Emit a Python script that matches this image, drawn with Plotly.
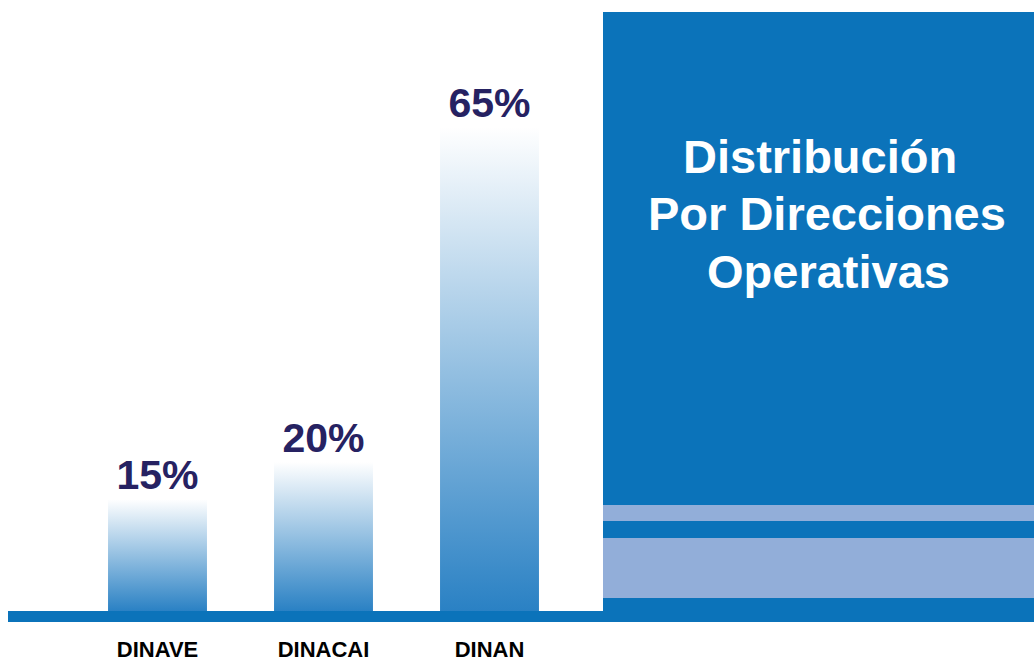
import plotly.graph_objects as go

categories = ["DINAVE", "DINACAI", "DINAN"]
values = [15, 20, 65]
value_labels = ["15%", "20%", "65%"]
title_lines = ["Distribución", "Por Direcciones", "Operativas"]

FONT = "Liberation Sans, Arial, sans-serif"
BLUE = "#0b73ba"
LIGHT = "#92aed9"
NAVY = "#262262"

W, H = 1034, 661
MB = 50
plot_h = H - MB
bar_w = 0.596

fig = go.Figure()

for i, v in enumerate(values):
    x0, x1 = i - bar_w / 2, i + bar_w / 2
    fig.add_trace(go.Scatter(
        x=[x0, x1, x1, x0, x0], y=[0, 0, v, v, 0],
        mode="lines", fill="toself", line=dict(width=0),
        fillgradient=dict(type="vertical",
                          colorscale=[[0, "#2a81c4"], [1, "#ffffff"]]),
        hoverinfo="skip", showlegend=False,
    ))

fig.add_trace(go.Scatter(
    x=list(range(len(values))), y=values, mode="text",
    text=value_labels, textposition="top center",
    textfont=dict(family=FONT, size=41, color=NAVY, weight="bold"),
    showlegend=False, hoverinfo="skip",
))

def py(pix):
    return (plot_h - pix) / plot_h

shapes = [
    dict(type="rect", xref="paper", yref="paper", x0=8 / W, x1=603 / W,
         y0=py(622), y1=py(611), fillcolor=BLUE, line=dict(width=0), layer="above"),
    dict(type="rect", xref="paper", yref="paper", x0=603 / W, x1=1,
         y0=py(622), y1=py(12), fillcolor=BLUE, line=dict(width=0), layer="above"),
    dict(type="rect", xref="paper", yref="paper", x0=603 / W, x1=1,
         y0=py(521), y1=py(505), fillcolor=LIGHT, line=dict(width=0), layer="above"),
    dict(type="rect", xref="paper", yref="paper", x0=603 / W, x1=1,
         y0=py(598), y1=py(538), fillcolor=LIGHT, line=dict(width=0), layer="above"),
]

title_pos = [(820, 156), (827, 213), (828, 271)]
annotations = [
    dict(xref="paper", yref="paper", x=px / W, y=py(pyy),
         xanchor="center", yanchor="middle", showarrow=False, text=t,
         font=dict(family=FONT, size=47, color="white", weight="bold"))
    for t, (px, pyy) in zip(title_lines, title_pos)
]

fig.update_layout(
    width=W, height=H,
    margin=dict(l=0, r=0, t=0, b=MB, autoexpand=False),
    paper_bgcolor="white", plot_bgcolor="white",
    shapes=shapes,
    annotations=annotations,
    xaxis=dict(range=[-157.5 / 166, (W - 157.5) / 166],
               tickvals=list(range(len(categories))), ticktext=categories,
               tickfont=dict(family=FONT, size=22, color="black", weight="bold"),
               ticks="outside", ticklen=19, tickcolor="rgba(0,0,0,0)",
               automargin=False,
               showgrid=False, zeroline=False, showline=False, fixedrange=True),
    yaxis=dict(range=[0, plot_h / 7.45], visible=False, fixedrange=True,
               automargin=False),
    showlegend=False,
)

fig.write_html("out.html", config={"displayModeBar": False},
               post_script="document.body.style.margin='0px';document.body.style.overflow='hidden';")
